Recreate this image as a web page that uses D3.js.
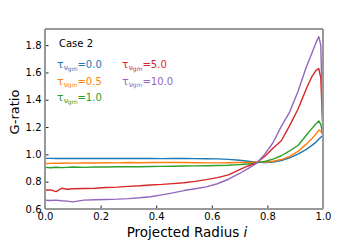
<!DOCTYPE html>
<html>
<head>
<meta charset="utf-8">
<script src="https://cdn.jsdelivr.net/npm/d3@7"></script>
<style>
  body { margin: 0; background: #fff; }
  svg { font-family: "DejaVu Sans", sans-serif; }
</style>
</head>
<body>
<svg id="chart" width="360" height="240"></svg>
<script>
// projected radius samples (shared by all series)
var radius = [0, 0.02, 0.04, 0.06, 0.08, 0.1, 0.14, 0.18, 0.22, 0.26, 0.3, 0.34, 0.38, 0.42, 0.46, 0.5,
  0.54, 0.58, 0.62, 0.66, 0.7, 0.73, 0.76, 0.79, 0.82, 0.85, 0.88, 0.91, 0.94, 0.96, 0.975, 0.985, 0.992, 1.0];

var tau00 = [0.971, 0.971, 0.970, 0.971, 0.970, 0.970, 0.971, 0.970, 0.970, 0.971, 0.970, 0.970, 0.970, 0.969, 0.970, 0.970,
  0.969, 0.968, 0.967, 0.963, 0.957, 0.950, 0.943, 0.940, 0.944, 0.955, 0.975, 1.002, 1.037, 1.066, 1.090, 1.110, 1.125, 1.140];
var tau05 = [0.933, 0.934, 0.936, 0.935, 0.937, 0.936, 0.938, 0.937, 0.939, 0.938, 0.940, 0.939, 0.940, 0.941, 0.940, 0.940,
  0.939, 0.938, 0.938, 0.939, 0.940, 0.941, 0.942, 0.943, 0.950, 0.962, 0.985, 1.022, 1.075, 1.115, 1.150, 1.178, 1.170, 1.140];
var tau10 = [0.905, 0.902, 0.906, 0.903, 0.905, 0.907, 0.905, 0.908, 0.907, 0.909, 0.910, 0.909, 0.911, 0.912, 0.913, 0.915,
  0.916, 0.917, 0.918, 0.920, 0.925, 0.930, 0.938, 0.948, 0.965, 0.990, 1.025, 1.065, 1.140, 1.190, 1.225, 1.245, 1.220, 1.140];
var tau50 = [0.739, 0.740, 0.727, 0.752, 0.745, 0.748, 0.750, 0.752, 0.757, 0.760, 0.766, 0.770, 0.776, 0.780, 0.786, 0.792,
  0.802, 0.815, 0.830, 0.850, 0.888, 0.915, 0.937, 0.985, 1.045, 1.100, 1.210, 1.330, 1.480, 1.570, 1.615, 1.628, 1.560, 1.150];
var tau100 = [0.664, 0.662, 0.665, 0.660, 0.658, 0.652, 0.665, 0.668, 0.670, 0.672, 0.676, 0.682, 0.690, 0.703, 0.718, 0.735,
  0.748, 0.762, 0.785, 0.818, 0.860, 0.895, 0.933, 1.000, 1.085, 1.205, 1.310, 1.460, 1.640, 1.740, 1.820, 1.862, 1.800, 1.150];

var seriesNames = ["0.0", "0.5", "1.0", "5.0", "10.0"];
var seriesColors = ["#1f77b4", "#ff7f0e", "#2ca02c", "#d62728", "#9467bd"];
var seriesValues = [tau00, tau05, tau10, tau50, tau100];

var xTicks = [0, 0.2, 0.4, 0.6, 0.8, 1.0];
var yTicks = [0.6, 0.8, 1.0, 1.2, 1.4, 1.6, 1.8];

var svg = d3.select("#chart");
var padLeft = 45, padRight = 323, padTop = 29, padBottom = 209;

var x = d3.scaleLinear().domain([0, 1]).range([padLeft, padRight]);
var y = d3.scaleLinear().domain([0.6, 1.918]).range([padBottom, padTop]);

// lines
var line = d3.line()
  .x(function(d, i) { return x(radius[i]); })
  .y(function(d) { return y(d); });

var plot = svg.append("g");
seriesValues.forEach(function(vals, k) {
  plot.append("path")
    .attr("d", line(vals))
    .attr("fill", "none")
    .attr("stroke", seriesColors[k])
    .attr("stroke-width", 1.4)
    .attr("stroke-linejoin", "round");
});

// axes, ticks pointing inward
var xAxis = svg.append("g")
  .attr("transform", "translate(0," + padBottom + ")")
  .call(d3.axisBottom(x).tickValues(xTicks).tickFormat(d3.format(".1f")).tickSizeInner(-3.5).tickSizeOuter(0).tickPadding(4));
var yAxis = svg.append("g")
  .attr("transform", "translate(" + padLeft + ",0)")
  .call(d3.axisLeft(y).tickValues(yTicks).tickFormat(d3.format(".1f")).tickSizeInner(-3.5).tickSizeOuter(0).tickPadding(3.5));
[xAxis, yAxis].forEach(function(a) {
  a.select(".domain").remove();
  a.selectAll("text").attr("font-size", 10).attr("fill", "#000").attr("font-family", "DejaVu Sans");
  a.selectAll("line").attr("stroke", "#222");
});

// spines
svg.append("line").attr("x1", padLeft).attr("x2", padRight).attr("y1", padTop).attr("y2", padTop)
  .attr("stroke", "#777").attr("stroke-width", 1.5);
svg.append("line").attr("x1", padRight).attr("x2", padRight).attr("y1", padTop).attr("y2", padBottom)
  .attr("stroke", "#999").attr("stroke-width", 2);
svg.append("line").attr("x1", padLeft).attr("x2", padLeft).attr("y1", padTop).attr("y2", padBottom)
  .attr("stroke", "#999").attr("stroke-width", 2);
svg.append("line").attr("x1", padLeft).attr("x2", padRight).attr("y1", padBottom).attr("y2", padBottom)
  .attr("stroke", "#999").attr("stroke-width", 2);

// axis labels
svg.append("text")
  .attr("transform", "translate(19,112) rotate(-90)")
  .attr("text-anchor", "middle")
  .attr("font-size", 13)
  .text("G-ratio");
var xl = svg.append("text")
  .attr("x", 187).attr("y", 236.5)
  .attr("text-anchor", "middle")
  .attr("font-size", 13.5);
xl.append("tspan").text("Projected Radius ");
xl.append("tspan").attr("font-style", "italic").text("i");

// annotation
svg.append("text").attr("x", 59).attr("y", 47).attr("font-size", 10).text("Case 2");

var legendPos = [[57, 68], [57, 84.5], [57, 101], [122, 68], [122, 84.5]];
seriesNames.forEach(function(name, k) {
  var t = svg.append("text")
    .attr("x", legendPos[k][0]).attr("y", legendPos[k][1])
    .attr("font-size", 10).attr("fill", seriesColors[k]);
  t.append("tspan").attr("font-size", 11).text("τ");
  t.append("tspan").attr("font-size", 7.5).attr("dy", 2).text("ν");
  t.append("tspan").attr("font-size", 6).attr("dy", 0.5).text("gm");
  t.append("tspan").attr("dy", -2.5).text("=" + name);
});
</script>
</body>
</html>
